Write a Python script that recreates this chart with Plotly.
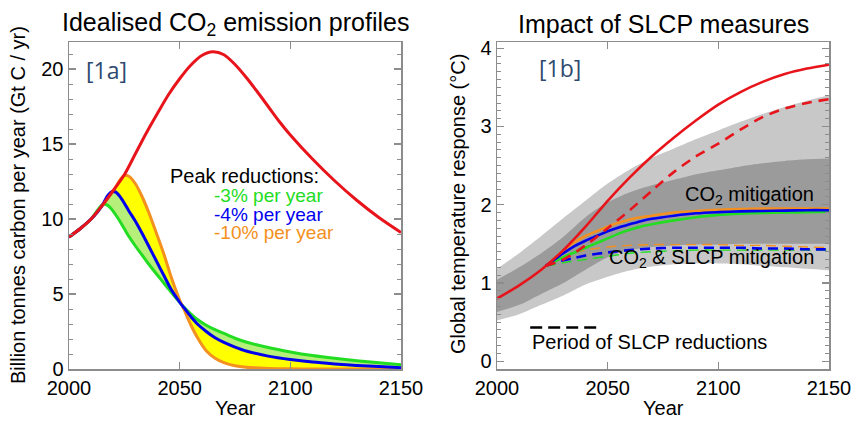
import plotly.graph_objects as go

# ---------------- Panel 1a : idealised CO2 emission profiles (GtC/yr) -------------
red_years = [2000, 2005, 2010, 2015, 2020, 2025, 2030, 2035, 2040, 2045, 2050, 2055,
             2060, 2065, 2070, 2075, 2080, 2085, 2090, 2095, 2100, 2110, 2120, 2130,
             2140, 2150]
red_emis = [8.8, 9.35, 10.0, 10.9, 11.9, 12.95, 14.35, 15.75, 17.05, 18.3, 19.35, 20.25,
            20.9, 21.15, 20.95, 20.3, 19.45, 18.5, 17.5, 16.5, 15.6, 14.0, 12.55, 11.25,
            10.1, 9.1]

mit_years = [2000, 2005, 2010, 2013, 2015, 2017, 2019, 2021, 2023, 2025, 2027, 2030,
             2033, 2036, 2040, 2043, 2046, 2050, 2052, 2055, 2058, 2062, 2066, 2070,
             2075, 2080, 2090, 2100, 2110, 2120, 2130, 2140, 2150]
green_emis = [8.8, 9.35, 10.0, 10.6, 10.95, 10.95, 10.7, 10.3, 9.85, 9.35, 8.85, 8.2,
              7.6, 7.0, 6.25, 5.7, 5.15, 4.45, 4.12, 3.68, 3.3, 2.92, 2.62, 2.37,
              2.05, 1.8, 1.43, 1.14, 0.9, 0.71, 0.55, 0.41, 0.29]
blue_emis = [8.8, 9.35, 10.0, 10.5, 10.9, 11.45, 11.8, 11.8, 11.5, 11.05, 10.55, 9.85,
             9.05, 8.2, 7.05, 6.2, 5.35, 4.45, 4.07, 3.5, 3.0, 2.5, 2.08, 1.77,
             1.46, 1.2, 0.86, 0.63, 0.46, 0.34, 0.24, 0.16, 0.09]
orange_emis = [8.8, 9.35, 10.0, 10.5, 10.9, 11.3, 11.7, 12.1, 12.6, 12.9, 12.85, 12.35,
               11.5, 10.45, 8.85, 7.6, 6.2, 4.6, 3.95, 2.95, 2.1, 1.22, 0.72, 0.43,
               0.22, 0.12, 0.04, 0.01, 0.0, 0.0, 0.0, 0.0, 0.0]

peak_labels = ["-3% per year", "-4% per year", "-10% per year"]

# ---------------- Panel 1b : global temperature response (degC) -------------------
bau_years = [2000, 2010, 2020, 2030, 2040, 2050, 2060, 2070, 2080, 2090, 2100, 2110,
             2120, 2130, 2140, 2150]
bau_temp = [0.8, 0.97, 1.17, 1.42, 1.72, 2.05, 2.35, 2.62, 2.86, 3.08, 3.28, 3.44,
            3.57, 3.67, 3.74, 3.79]

bau_slcp_years = [2022, 2030, 2040, 2050, 2060, 2070, 2080, 2090, 2100, 2110, 2120,
                  2130, 2140, 2150]
bau_slcp_temp = [1.22, 1.3, 1.48, 1.7, 1.93, 2.18, 2.42, 2.62, 2.78, 2.96, 3.12,
                 3.23, 3.3, 3.35]

co2_years = [2022, 2025, 2030, 2035, 2040, 2045, 2050, 2055, 2060, 2065, 2070, 2080,
             2090, 2100, 2110, 2120, 2130, 2140, 2150]
orange_temp = [1.22, 1.29, 1.41, 1.52, 1.6, 1.66, 1.72, 1.77, 1.81, 1.84, 1.86, 1.9,
               1.92, 1.935, 1.945, 1.95, 1.95, 1.95, 1.95]
blue_temp = [1.22, 1.28, 1.38, 1.47, 1.54, 1.6, 1.66, 1.71, 1.75, 1.79, 1.82, 1.86,
             1.89, 1.905, 1.915, 1.92, 1.925, 1.93, 1.93]
green_temp = [1.22, 1.26, 1.33, 1.39, 1.45, 1.51, 1.57, 1.63, 1.68, 1.72, 1.75, 1.8,
              1.84, 1.87, 1.885, 1.895, 1.9, 1.905, 1.91]

slcp_years = [2022, 2025, 2030, 2035, 2040, 2050, 2060, 2070, 2080, 2090, 2100, 2110,
              2120, 2130, 2140, 2150]
orange_slcp = [1.22, 1.27, 1.34, 1.39, 1.42, 1.46, 1.48, 1.49, 1.49, 1.49, 1.49, 1.48,
               1.48, 1.47, 1.46, 1.45]
blue_slcp = [1.22, 1.25, 1.29, 1.32, 1.35, 1.39, 1.42, 1.44, 1.45, 1.45, 1.45, 1.45,
             1.44, 1.44, 1.43, 1.43]
green_slcp = [1.22, 1.23, 1.26, 1.28, 1.3, 1.34, 1.38, 1.4, 1.41, 1.42, 1.42, 1.42,
              1.42, 1.42, 1.42, 1.42]

band_years = [2000, 2010, 2020, 2030, 2040, 2050, 2060, 2070, 2080, 2090, 2100, 2110,
              2120, 2130, 2140, 2150]
co2_band_hi = [1.18, 1.38, 1.6, 1.83, 2.05, 2.27, 2.45, 2.6, 2.72, 2.84, 2.95, 3.06,
               3.16, 3.25, 3.33, 3.4]
co2_band_lo = [0.63, 0.72, 0.86, 1.0, 1.17, 1.33, 1.42, 1.46, 1.48, 1.49, 1.49, 1.5,
               1.5, 1.5, 1.5, 1.5]
slcp_band_hi = [1.04, 1.2, 1.38, 1.59, 1.84, 2.03, 2.16, 2.25, 2.32, 2.39, 2.44, 2.49,
                2.53, 2.56, 2.58, 2.59]
slcp_band_lo = [0.52, 0.6, 0.72, 0.84, 0.98, 1.08, 1.16, 1.21, 1.24, 1.25, 1.25, 1.24,
                1.22, 1.2, 1.18, 1.16]

slcp_period = [2015, 2045]
SLCP_MARK_Y = 0.43

# ---------------- styling ----------------
W, H = 853, 421
FONT = "Liberation Sans, Arial, Helvetica, sans-serif"
RED, GREEN, BLUE, ORANGE = "#e8141b", "#22dd22", "#0000ee", "#f39020"
LIGHTGREEN, YELLOW = "#b6f07a", "#ffff00"
LIGHTGRAY, DARKGRAY = "#c8c8c8", "#9b9b9b"
LABEL_BLUE = "#2e4a70"
AXCOL = "#8c8c8c"


def px(x):
    return x / W


def py(y):
    return 1 - y / H


fig = go.Figure()


def line_trace(xs, ys, ax, color=None, width=0, dash=None, fill=None, fillcolor=None):
    ln = dict(width=width, shape="spline", smoothing=0.8)
    if color:
        ln["color"] = color
    if dash:
        ln["dash"] = dash
    kw = dict(x=xs, y=ys, mode="lines", line=ln, xaxis="x" + ax, yaxis="y" + ax,
              showlegend=False, hoverinfo="skip")
    if fill:
        kw["fill"] = fill
        kw["fillcolor"] = fillcolor
    fig.add_trace(go.Scatter(**kw))


# ---- left panel fills ----
line_trace(mit_years, green_emis, "")
line_trace(mit_years, blue_emis, "", fill="tonexty", fillcolor=LIGHTGREEN)
line_trace(mit_years, orange_emis, "", fill="tonexty", fillcolor=YELLOW)
# ---- left panel lines ----
for ys, col in [(green_emis, GREEN), (orange_emis, ORANGE), (blue_emis, BLUE)]:
    line_trace(mit_years, ys, "", color=col, width=3)
line_trace(red_years, red_emis, "", color=RED, width=3)

# ---- right panel bands ----
line_trace(band_years, slcp_band_lo, "2")
line_trace(band_years, co2_band_hi, "2", fill="tonexty", fillcolor=LIGHTGRAY)
line_trace(band_years, co2_band_lo, "2")
line_trace(band_years, slcp_band_hi, "2", fill="tonexty", fillcolor=DARKGRAY)

# ---- right panel dashed (CO2 & SLCP) ----
line_trace(slcp_years, green_slcp, "2", color=GREEN, width=1.4, dash="10px,6px")
line_trace(slcp_years, orange_slcp, "2", color=ORANGE, width=1.4, dash="10px,6px")
line_trace(slcp_years, blue_slcp, "2", color=BLUE, width=2.6, dash="10px,6px")
# ---- right panel solid (CO2 mitigation) ----
for ys, col in [(green_temp, GREEN), (orange_temp, ORANGE), (blue_temp, BLUE)]:
    line_trace(co2_years, ys, "2", color=col, width=2.6)
line_trace(bau_slcp_years, bau_slcp_temp, "2", color=RED, width=2.6, dash="10px,7px")
line_trace(bau_years, bau_temp, "2", color=RED, width=2.6)
# period of SLCP reductions marker
line_trace(slcp_period, [SLCP_MARK_Y] * len(slcp_period), "2", color="black",
           width=2.6, dash="12px,6px")

axis_common = dict(showline=True, linecolor=AXCOL, linewidth=1.5, mirror="ticks",
                   ticks="inside", ticklen=7, tickwidth=1.2, tickcolor=AXCOL,
                   showgrid=False, zeroline=False, automargin=False, fixedrange=True,
                   tickfont=dict(family=FONT, size=20, color="black"))
xcommon = dict(axis_common, range=[2000, 2150], tickvals=[2000, 2050, 2100, 2150])

fig.update_layout(
    template="none",
    width=W, height=H, margin=dict(l=0, r=0, t=0, b=0, autoexpand=False),
    paper_bgcolor="white", plot_bgcolor="white", showlegend=False, hovermode=False,
    xaxis=dict(xcommon, domain=[px(69), px(401)], anchor="y"),
    yaxis=dict(axis_common, domain=[py(369), py(42)], anchor="x", range=[0, 21.8],
               tickvals=[0, 5, 10, 15, 20],
               minor=dict(ticks="inside", dtick=1, ticklen=4, tickcolor=AXCOL, tickwidth=1)),
    xaxis2=dict(xcommon, domain=[px(497), px(829)], anchor="y2"),
    yaxis2=dict(axis_common, domain=[py(369), py(42)], anchor="x2", range=[-0.1, 4.08],
                tickvals=[0, 1, 2, 3, 4],
                minor=dict(ticks="inside", dtick=0.1, ticklen=4, tickcolor=AXCOL, tickwidth=1)),
)

ann = []


def add_text(text, x, y, size=20, color="black", xanchor="left", family=FONT, textangle=0):
    ann.append(dict(text=text, x=px(x), y=py(y), xref="paper", yref="paper",
                    xanchor=xanchor, yanchor="middle", showarrow=False,
                    textangle=textangle, font=dict(family=family, size=size, color=color)))


add_text("Idealised CO<sub>2</sub> emission profiles", 235, 24, size=25, xanchor="center")
add_text("Impact of SLCP measures", 663, 24, size=25, xanchor="center")
add_text("Year", 235, 408, xanchor="center")
add_text("Year", 663, 408, xanchor="center")
add_text("Billion tonnes carbon per year (Gt C / yr)", 18, 205, xanchor="center", textangle=-90)
add_text("Global temperature response (°C)", 458, 204, xanchor="center", textangle=-90)
add_text("[1a]", 84, 70, size=23, color=LABEL_BLUE, family="Open Sans, Noto Sans, sans-serif")
add_text("[1b]", 537, 68, size=23, color=LABEL_BLUE, family="Open Sans, Noto Sans, sans-serif")
add_text("Peak reductions:", 168, 176)
for lab, col, yy in zip(peak_labels, [GREEN, BLUE, ORANGE], [195, 214, 233]):
    add_text(lab, 212, yy, size=19, color=col)
add_text("CO<sub>2</sub> mitigation", 816, 195, xanchor="right")
add_text("CO<sub>2</sub> &amp; SLCP mitigation", 816, 258, xanchor="right")
add_text("Period of SLCP reductions", 530, 342)

fig.update_layout(annotations=ann)
fig.write_html("out.html", config={"displayModeBar": False, "staticPlot": True},
               post_script="document.body.style.margin='0px';document.body.style.overflow='hidden';")
